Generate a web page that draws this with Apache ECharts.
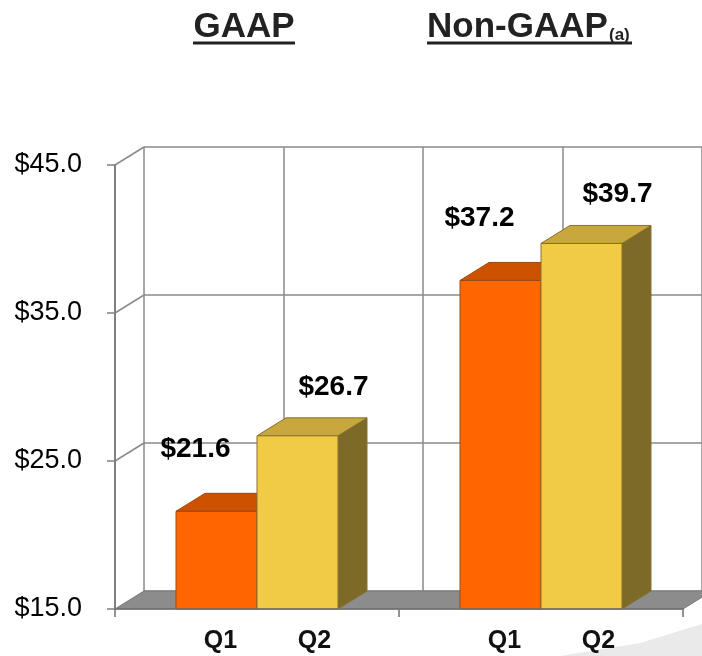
<!DOCTYPE html>
<html><head><meta charset="utf-8">
<script src="https://cdn.jsdelivr.net/npm/echarts@6/dist/echarts.min.js"></script>
<style>html,body{margin:0;padding:0;background:#fff}#c{width:702px;height:656px}</style>
</head><body><div id="c"></div>
<script>
// ---- data ----
const categories = ['GAAP', 'Non-GAAP'];
const seriesNames = ['Q1', 'Q2'];
const q1Values = [21.6, 37.2];
const q2Values = [26.7, 39.7];
const yTicks = [15, 25, 35, 45];
const yMin = 15, yMax = 45, yStep = 10;

// ---- style / layout ----
const FONT = "'Liberation Sans', Arial, Helvetica, sans-serif";
const DX = 29, DY = -18;           // depth offset of the 3D look
const BAR_FRAC = 81 / 284;         // bar width relative to category band
const labelOff = [[-21, -62], [36, -49]];
const qOff = [4, 17];
const colors = {
  Q1: {front: '#FF6600', top: '#CC5200', side: '#A84400', edge: '#9A4A14'},
  Q2: {front: '#F2CB46', top: '#C8A83C', side: '#7D6A28', edge: '#85702E'}
};
const GRID_LINE = '#8A8A8A';

function makeBarRender(idx) {
  const c = colors[seriesNames[idx]];
  return function (params, api) {
    const ci = api.value(0), v = api.value(1);
    const base = api.coord([ci, yMin]);
    const top = api.coord([ci, v]);
    const bw = api.size([1, 0])[0] * BAR_FRAC;
    const x0 = idx === 0 ? base[0] - bw : base[0];
    const x1 = x0 + bw;
    const ty = top[1], by = base[1];
    const edge = {stroke: c.edge, lineWidth: 1};
    const cx = (x0 + x1) / 2;
    return {
      type: 'group',
      children: [
        {type: 'polygon', shape: {points: [[x1, ty], [x1 + DX, ty + DY], [x1 + DX, by + DY], [x1, by]]},
          style: Object.assign({fill: c.side}, edge)},
        {type: 'polygon', shape: {points: [[x0, ty], [x0 + DX, ty + DY], [x1 + DX, ty + DY], [x1, ty]]},
          style: Object.assign({fill: c.top}, edge)},
        {type: 'rect', shape: {x: x0, y: ty, width: bw, height: by - ty},
          style: Object.assign({fill: c.front}, edge)},
        {type: 'text', x: cx + labelOff[idx][0], y: ty + labelOff[idx][1], z2: 10,
          style: {text: '$' + v.toFixed(1), font: 'bold 28px ' + FONT, fill: '#000',
            align: 'center', verticalAlign: 'middle'}},
        {type: 'text', x: cx + qOff[idx], y: by + 32, z2: 10,
          style: {text: seriesNames[idx], font: 'bold 25px ' + FONT, fill: '#111',
            align: 'center', verticalAlign: 'middle'}}
      ]
    };
  };
}

function floorRender(params, api) {
  const cs = params.coordSys;
  const x = cs.x, w = cs.width, yb = cs.y + cs.height;
  const children = [
    {type: 'polygon', shape: {points: [[x, yb], [x + DX, yb + DY], [x + w + DX, yb + DY], [x + w, yb]]},
      style: {fill: '#8C8C8C', stroke: '#7a7a7a', lineWidth: 1}}
  ];
  yTicks.forEach(function (t) {
    const yy = api.coord([0, t])[1];
    if (t !== yMin) {
      children.push({type: 'line', shape: {x1: x, y1: yy, x2: x + DX, y2: yy + DY},
        style: {stroke: GRID_LINE, lineWidth: 1.5}});
    }
  });
  return {type: 'group', children: children};
}

const chart = echarts.init(document.getElementById('c'));
chart.setOption({
  animation: false,
  backgroundColor: '#fff',
  grid: [
    {left: 115, top: 165, width: 568, height: 444},
    {left: 115 + DX, top: 165 + DY, width: 568, height: 444}
  ],
  xAxis: [
    {type: 'category', gridIndex: 0, data: categories, z: 3,
      axisLine: {show: true, lineStyle: {color: '#707070', width: 1.5}},
      axisTick: {show: true, length: 8, lineStyle: {color: '#707070', width: 1.5}},
      axisLabel: {show: false}, splitLine: {show: false}},
    {type: 'value', gridIndex: 1, min: 0, max: 4, interval: 1,
      axisLine: {show: false}, axisTick: {show: false}, axisLabel: {show: false},
      splitLine: {show: true, lineStyle: {color: GRID_LINE, width: 1.5}}}
  ],
  yAxis: [
    {type: 'value', gridIndex: 0, min: yMin, max: yMax, interval: yStep, z: 3,
      axisLine: {show: true, lineStyle: {color: '#808080', width: 2}},
      axisTick: {show: true, length: 8, lineStyle: {color: '#808080', width: 1.5}},
      axisLabel: {fontSize: 27, fontFamily: FONT, color: '#000', margin: 33,
        formatter: function (v) { return '$' + v.toFixed(1); }},
      splitLine: {show: false}},
    {type: 'value', gridIndex: 1, min: yMin, max: yMax, interval: yStep,
      axisLine: {show: false}, axisTick: {show: false}, axisLabel: {show: false},
      splitLine: {show: true, lineStyle: {color: GRID_LINE, width: 1.5}}}
  ],
  series: [
    {type: 'custom', name: 'floor', xAxisIndex: 0, yAxisIndex: 0, renderItem: floorRender,
      data: [[0, yMin]], silent: true},
    {type: 'custom', name: seriesNames[0], xAxisIndex: 0, yAxisIndex: 0, renderItem: makeBarRender(0),
      encode: {x: 0, y: 1}, data: q1Values.map(function (v, i) { return [i, v]; })},
    {type: 'custom', name: seriesNames[1], xAxisIndex: 0, yAxisIndex: 0, renderItem: makeBarRender(1),
      encode: {x: 0, y: 1}, data: q2Values.map(function (v, i) { return [i, v]; })}
  ],
  graphic: [
    {type: 'polygon', z: -1, shape: {points: [[560, 656], [640, 643], [702, 624], [702, 656]]},
      style: {fill: '#EAEAEA'}},
    {type: 'text', x: 244, y: 27, style: {text: categories[0], font: 'bold 35px ' + FONT, fill: '#222',
      align: 'center', verticalAlign: 'middle'}},
    {type: 'line', shape: {x1: 193, y1: 43, x2: 295, y2: 43}, style: {stroke: '#222', lineWidth: 3}},
    {type: 'text', x: 427, y: 27, style: {text: categories[1], font: 'bold 35px ' + FONT, fill: '#222',
      align: 'left', verticalAlign: 'middle'}},
    {type: 'text', x: 609, y: 35, style: {text: '(a)', font: 'bold 17px ' + FONT, fill: '#222',
      align: 'left', verticalAlign: 'middle'}},
    {type: 'line', shape: {x1: 427, y1: 43, x2: 632, y2: 43}, style: {stroke: '#222', lineWidth: 3}}
  ]
});
</script>
</body></html>
